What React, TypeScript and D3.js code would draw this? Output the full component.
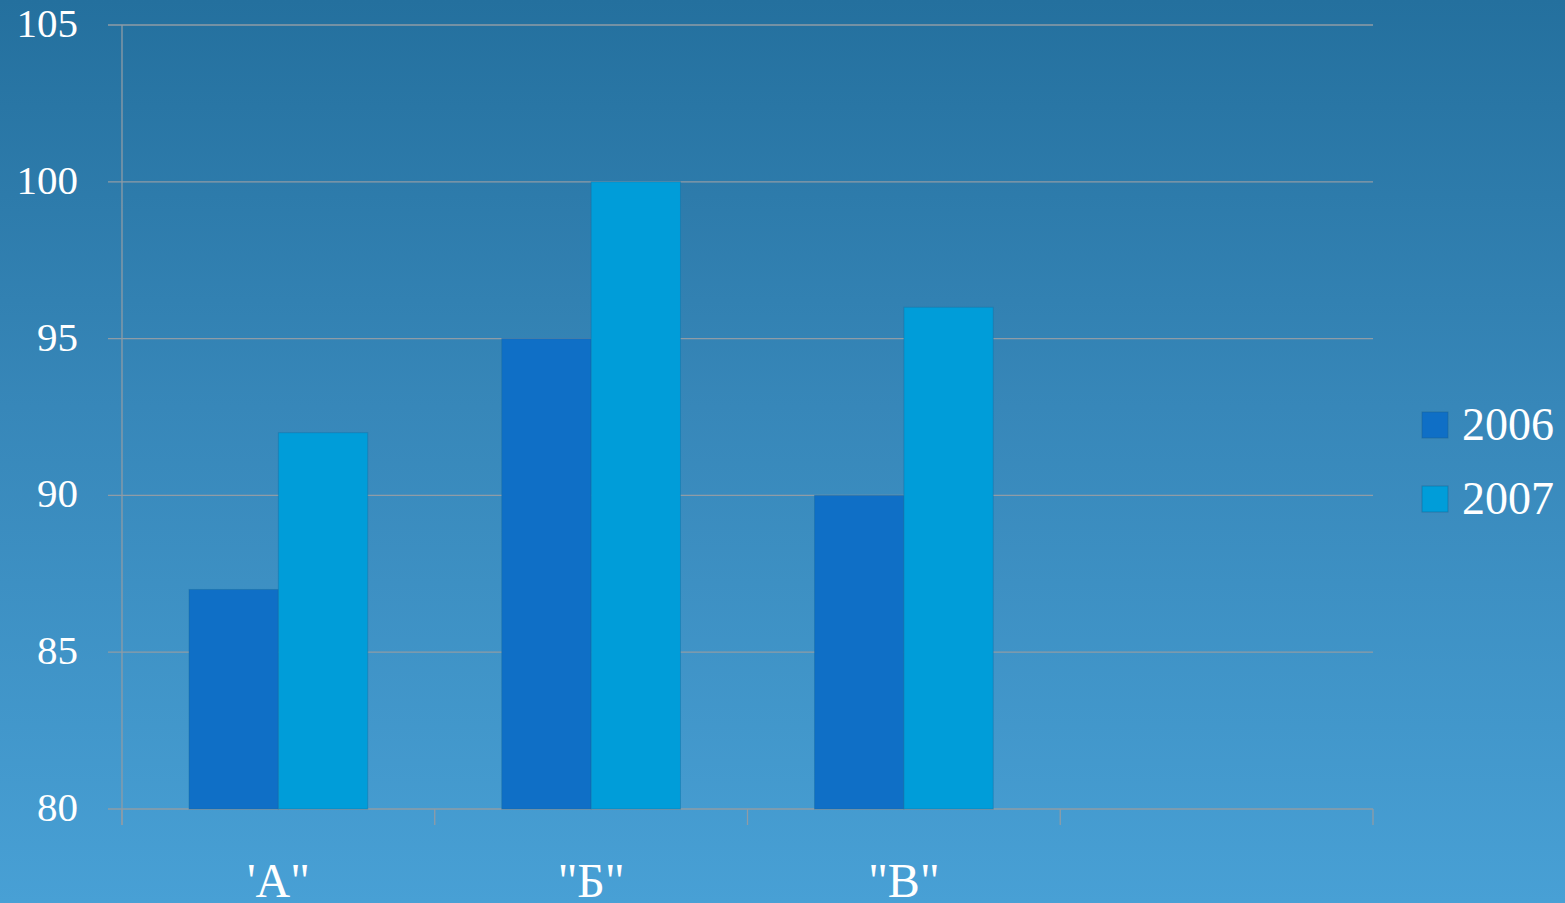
import React from "react";
import * as d3 from "d3";

const categories = ["'А\"", "\"Б\"", "\"В\"", ""];
const seriesNames = ["2006", "2007"];
const values2006 = [87, 95, 90, null];
const values2007 = [92, 100, 96, null];
const yTicks = [80, 85, 90, 95, 100, 105];
const colors = ["#0f6fc6", "#009dd9"];

const W = 1565;
const H = 903;

export default function App() {
  const x = d3.scaleBand<string>().domain(categories.map((c, i) => String(i))).range([122, 1373]).padding(0);
  const inner = d3.scaleBand<string>().domain(seriesNames).range([0, x.bandwidth()]).paddingInner(0).paddingOuter(0.75);
  const y = d3.scaleLinear().domain([80, 105]).range([809, 25]);
  const series = [values2006, values2007];
  const font = "'Liberation Serif', 'DejaVu Serif', serif";

  return (
    <div style={{ position: "fixed", left: 0, top: 0 }}>
      <svg width={W} height={H} style={{ display: "block" }}>
        <defs>
          <linearGradient id="bg" x1="0" y1="0" x2="0" y2="1">
            <stop offset="0" stopColor="#24709e" />
            <stop offset="0.45" stopColor="#3787b9" />
            <stop offset="1" stopColor="#48a0d5" />
          </linearGradient>
        </defs>
        <rect x={0} y={0} width={W} height={H} fill="url(#bg)" />
        {yTicks.map((t) => (
          <line key={t} x1={108} x2={1373} y1={y(t)} y2={y(t)} stroke="#8f9ca6" strokeWidth={1.3} />
        ))}
        <line x1={122} x2={122} y1={y(105)} y2={825} stroke="#8f9ca6" strokeWidth={1.3} />
        {categories.map((c, i) => (
          <line key={"t" + i} x1={x(String(i))!} x2={x(String(i))!} y1={y(80)} y2={825} stroke="#8f9ca6" strokeWidth={1.3} />
        ))}
        <line x1={1373} x2={1373} y1={y(80)} y2={825} stroke="#8f9ca6" strokeWidth={1.3} />
        {series.map((vals, si) =>
          vals.map((v, i) =>
            v == null ? null : (
              <rect
                key={si + "-" + i}
                x={x(String(i))! + inner(seriesNames[si])!}
                y={y(v)}
                width={inner.bandwidth()}
                height={y(80) - y(v)}
                fill={colors[si]}
                stroke="#1a6a9a"
                strokeOpacity={0.4}
                strokeWidth={1}
              />
            )
          )
        )}
        {yTicks.map((t) => (
          <text key={"l" + t} x={78} y={y(t) + 12} textAnchor="end" fill="#ffffff" fontFamily={font} fontSize={41}>
            {t}
          </text>
        ))}
        {categories.map((c, i) => (
          <text key={"c" + i} x={x(String(i))! + x.bandwidth() / 2} y={897} textAnchor="middle" fill="#ffffff" fontFamily={font} fontSize={48}>
            {c}
          </text>
        ))}
        {seriesNames.map((s, i) => (
          <g key={s} transform={`translate(1422, ${412 + i * 74})`}>
            <rect x={0} y={0} width={26} height={26} fill={colors[i]} stroke="#1a5f8f" strokeOpacity={0.5} />
            <text x={40} y={28} fill="#ffffff" fontFamily={font} fontSize={46}>
              {s}
            </text>
          </g>
        ))}
      </svg>
    </div>
  );
}
